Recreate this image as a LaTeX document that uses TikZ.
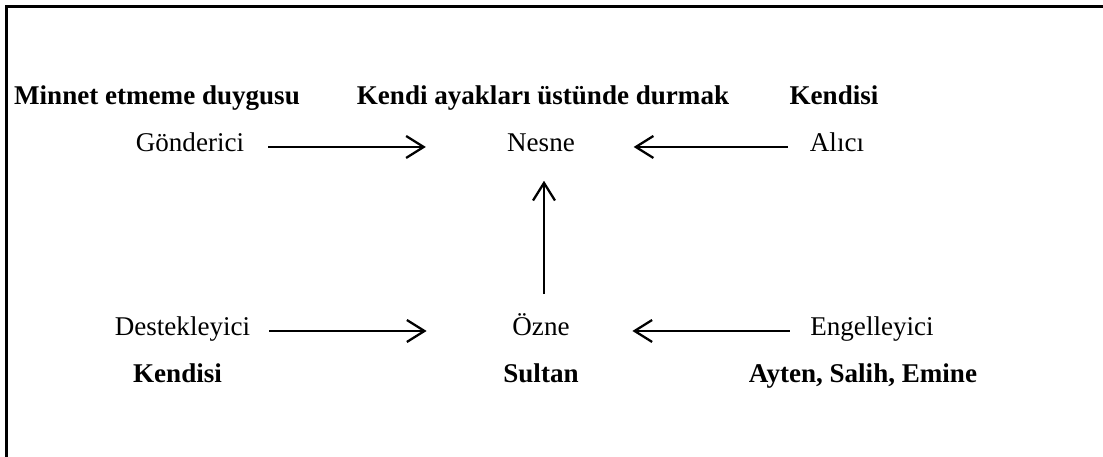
\documentclass[tikz,border=0pt]{standalone}
\usepackage{fontspec}
\setmainfont{Liberation Serif}
\usepackage{tikz}
\usetikzlibrary{arrows.meta, positioning}

\begin{document}
\begin{tikzpicture}[
        rol/.style={anchor=base, inner sep=0pt, text height=1.3ex, text depth=0.3ex, font=\fontsize{15.4}{18}\selectfont},
        kisi/.style={rol, font=\fontsize{15.4}{18}\selectfont\bfseries},
        ok/.style={line width=1.3pt, -{Straight Barb[length=10pt, width=12.5pt, line width=1.3pt]}}
    ]
        \useasboundingbox (0,0) rectangle (22.06,-9.12);

        % Frame
        \draw[line width=1.4pt] (0.13,-9.2) |- (22.2,-0.13);

        % Upper row
        \node[kisi] (minnet) at (3.14, -2.08) {Minnet etmeme duygusu};
        \node[kisi] (ayak) at (10.86, -2.08) {Kendi ayakları üstünde durmak};
        \node[kisi] (kendisiA) at (16.68, -2.08) {Kendisi};

        \node[rol] (gonderici) at (3.80, -3.02) {Gönderici};
        \node[rol] (nesne) at (10.82, -3.02) {Nesne};
        \node[rol] (alici) at (16.74, -3.02) {Alıcı};

        % Lower row
        \node[rol] (destek) at (3.65, -6.70) {Destekleyici};
        \node[rol] (ozne) at (10.82, -6.70) {Özne};
        \node[rol] (engel) at (17.44, -6.70) {Engelleyici};

        \node[kisi] (kendisiB) at (3.55, -7.64) {Kendisi};
        \node[kisi] (sultan) at (10.82, -7.64) {Sultan};
        \node[kisi] (ayten) at (17.26, -7.64) {Ayten, Salih, Emine};

        % Arrows
        \draw[ok, shorten <=0.48cm, shorten >=1.62cm] (gonderici.east) -- (nesne.west);
        \draw[ok, shorten <=0.44cm, shorten >=1.17cm] (alici.west) -- (nesne.east);
        \draw[ok, shorten <=0.38cm, shorten >=1.71cm] (destek.east) -- (ozne.west);
        \draw[ok, shorten <=0.41cm, shorten >=1.25cm] (engel.west) -- (ozne.east);
        \draw[ok, shorten <=0.6cm, shorten >=0.54cm] ([xshift=0.06cm]ozne.north) -- ([xshift=0.06cm]nesne.south);

    \end{tikzpicture}
\end{document}
